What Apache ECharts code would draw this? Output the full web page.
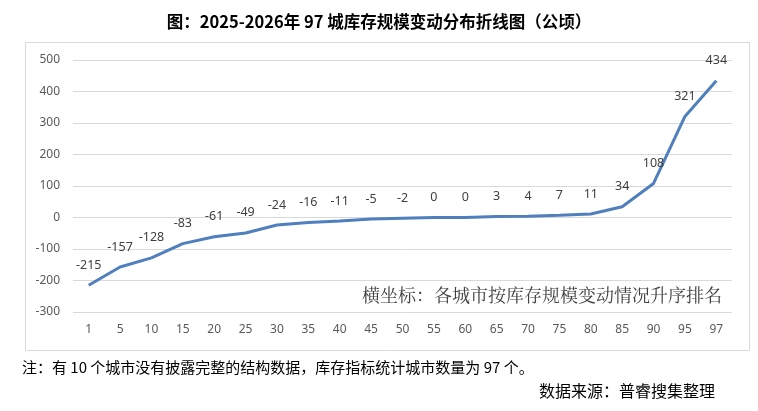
<!DOCTYPE html>
<html>
<head>
<meta charset="utf-8">
<script src="https://cdn.jsdelivr.net/npm/echarts@6/dist/echarts.min.js"></script>
<style>
  html, body { margin: 0; padding: 0; background: #fff; }
  #main { width: 758px; height: 411px; }
</style>
</head>
<body>
<div id="main"></div>
<script>
var chart = echarts.init(document.getElementById('main'));

// city rank positions (x axis)
var ranks = ['1', '5', '10', '15', '20', '25', '30', '35', '40', '45', '50',
    '55', '60', '65', '70', '75', '80', '85', '90', '95', '97'];
// inventory change, hectares
var changes = [-215, -157, -128, -83, -61, -49, -24, -16, -11, -5, -2,
    0, 0, 3, 4, 7, 11, 34, 108, 321, 434];
var yTicks = [-300, 500, 100];

var option = {
    backgroundColor: '#fff',
    animation: false,
    title: {
        text: '图：2025-2026年 97 城库存规模变动分布折线图（公顷）',
        left: 'center',
        top: 8,
        textStyle: {
            fontSize: 16.5,
            fontWeight: 'bold',
            color: '#000',
            fontFamily: 'Noto Sans CJK SC'
        }
    },
    grid: {
        left: 73,
        right: 26,
        top: 60,
        bottom: 99
    },
    xAxis: {
        type: 'category',
        data: ranks,
        boundaryGap: true,
        axisLine: { show: false },
        axisTick: { show: false },
        axisLabel: {
            color: '#595959',
            fontSize: 12,
            margin: 12,
            fontFamily: 'Noto Sans'
        }
    },
    yAxis: {
        type: 'value',
        min: yTicks[0],
        max: yTicks[1],
        interval: yTicks[2],
        axisLine: { show: false },
        axisTick: { show: false },
        axisLabel: {
            color: '#595959',
            fontSize: 12,
            margin: 13,
            fontFamily: 'Noto Sans'
        },
        splitLine: { lineStyle: { color: '#d9d9d9', width: 1 } }
    },
    series: [{
        type: 'line',
        data: changes,
        symbol: 'circle',
        symbolSize: 1,
        showSymbol: true,
        itemStyle: { color: 'rgba(0,0,0,0)' },
        lineStyle: { color: '#4f7fbd', width: 3 },
        label: {
            show: true,
            position: 'top',
            distance: 13,
            color: '#404040',
            fontSize: 12.5,
            fontFamily: 'Noto Sans'
        }
    }],
    graphic: [
        {
            type: 'rect',
            shape: { x: 25.5, y: 42.5, width: 724, height: 308 },
            style: { fill: 'none', stroke: '#d9d9d9', lineWidth: 1 },
            silent: true
        },
        {
            type: 'text',
            left: 362,
            top: 286,
            style: {
                text: '横坐标：各城市按库存规模变动情况升序排名',
                fill: '#404040',
                fontSize: 18,
                fontFamily: 'Noto Serif CJK SC, Noto Sans CJK SC'
            }
        },
        {
            type: 'text',
            left: 22,
            top: 360,
            style: {
                text: '注：有 10 个城市没有披露完整的结构数据，库存指标统计城市数量为 97 个。',
                fill: '#000',
                fontSize: 15,
                fontFamily: 'Noto Sans CJK SC'
            }
        },
        {
            type: 'text',
            left: 539,
            top: 383,
            style: {
                text: '数据来源：普睿搜集整理',
                fill: '#000',
                fontSize: 16,
                fontFamily: 'Noto Sans CJK SC'
            }
        }
    ]
};

chart.setOption(option);
</script>
</body>
</html>
